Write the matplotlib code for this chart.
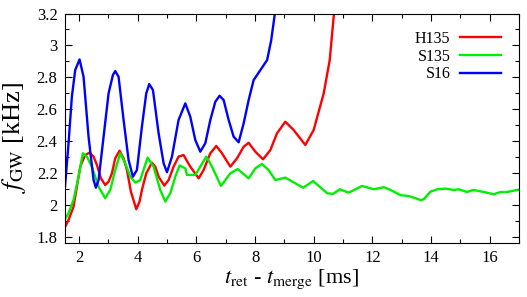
import numpy as np
import matplotlib
matplotlib.use("Agg")
import matplotlib.pyplot as plt
from matplotlib.ticker import MultipleLocator

plt.rcParams["font.family"] = ["Liberation Serif", "DejaVu Serif"]
plt.rcParams["mathtext.fontset"] = "stix"

# H135 (red)
t_h135 = [1.50, 1.638, 1.808, 1.922, 2.036, 2.206, 2.354, 2.491, 2.605, 2.741, 2.889, 3.003,
          3.117, 3.23, 3.378, 3.515, 3.629, 3.765, 3.947, 4.06, 4.14, 4.288, 4.481, 4.595,
          4.71, 4.903, 5.05, 5.22, 5.39, 5.56, 5.79, 6.074, 6.245, 6.473, 6.677, 6.87,
          7.155, 7.382, 7.61, 7.78, 8.008, 8.27, 8.52, 8.746, 9.03, 9.315, 9.713, 9.997,
          10.34, 10.545, 10.7, 10.8]
f_h135 = [1.853, 1.905, 1.988, 2.113, 2.239, 2.312, 2.327, 2.302, 2.25, 2.166, 2.124, 2.145,
          2.197, 2.291, 2.339, 2.291, 2.218, 2.082, 1.972, 2.02, 2.093, 2.197, 2.264, 2.239,
          2.176, 2.12, 2.155, 2.239, 2.302, 2.312, 2.239, 2.166, 2.218, 2.323, 2.369, 2.323,
          2.239, 2.291, 2.364, 2.389, 2.333, 2.285, 2.343, 2.448, 2.521, 2.469, 2.375, 2.469,
          2.699, 2.908, 3.221, 3.4]

# S135 (green)
t_s135 = [1.50, 1.638, 1.808, 1.979, 2.126, 2.263, 2.433, 2.662, 2.889, 3.06, 3.23, 3.401,
          3.572, 3.742, 3.913, 4.083, 4.333, 4.538, 4.766, 4.937, 5.107, 5.278, 5.426, 5.62,
          5.676, 5.961, 6.131, 6.336, 6.53, 6.836, 7.155, 7.405, 7.78, 8.008, 8.235, 8.46,
          8.69, 9.03, 9.64, 9.98, 10.46, 10.66, 10.89, 11.19, 11.65, 12.05, 12.39, 12.62,
          12.96, 13.24, 13.64, 13.75, 13.98, 14.21, 14.49, 14.78, 14.95, 15.23, 15.44, 15.8,
          16.14, 16.37, 16.6, 16.94, 17.0]
f_s135 = [1.905, 1.947, 2.03, 2.176, 2.323, 2.302, 2.239, 2.113, 2.041, 2.093, 2.218, 2.323,
          2.26, 2.176, 2.139, 2.155, 2.295, 2.239, 2.093, 2.02, 2.072, 2.176, 2.247, 2.228,
          2.187, 2.187, 2.239, 2.302, 2.239, 2.118, 2.197, 2.224, 2.166, 2.228, 2.256, 2.218,
          2.155, 2.17, 2.107, 2.149, 2.072, 2.068, 2.097, 2.076, 2.118, 2.097, 2.11, 2.093,
          2.06, 2.055, 2.03, 2.034, 2.082, 2.097, 2.101, 2.093, 2.097, 2.08, 2.093, 2.08,
          2.066, 2.08, 2.08, 2.093, 2.093]

# S16 (blue)
t_s16 = [1.50, 1.638, 1.751, 1.865, 2.013, 2.15, 2.32, 2.491, 2.571, 2.662, 2.833, 3.003,
         3.151, 3.23, 3.344, 3.515, 3.685, 3.833, 3.97, 4.14, 4.288, 4.39, 4.516, 4.71,
         4.88, 4.994, 5.165, 5.39, 5.62, 5.79, 5.961, 6.131, 6.302, 6.473, 6.643, 6.79,
         6.927, 7.098, 7.268, 7.439, 7.61, 7.78, 7.95, 8.18, 8.41, 8.55, 8.69, 8.75]
f_s16 = [2.076, 2.386, 2.678, 2.845, 2.912, 2.803, 2.427, 2.155, 2.107, 2.155, 2.427, 2.699,
         2.814, 2.839, 2.803, 2.532, 2.281, 2.176, 2.218, 2.49, 2.699, 2.757, 2.72, 2.448,
         2.26, 2.204, 2.302, 2.532, 2.636, 2.552, 2.406, 2.333, 2.386, 2.532, 2.646, 2.684,
         2.657, 2.532, 2.427, 2.392, 2.511, 2.657, 2.782, 2.845, 2.908, 3.033, 3.221, 3.35]

fig = plt.figure(figsize=(5.27, 2.97), dpi=100)
ax = fig.add_axes([64.5 / 527, 1 - 243 / 297, (519 - 64.5) / 527, (243 - 13.5) / 297])

ax.plot(t_h135, f_h135, color="#ff0000", lw=1.7, label="H135")
ax.plot(t_s135, f_s135, color="#00ee00", lw=1.7, label="S135")
ax.plot(t_s16, f_s16, color="#0000ff", lw=1.7, label="S16")

ax.set_xlim(1.5, 17)
ax.set_ylim(1.76, 3.2)
ax.xaxis.set_major_locator(MultipleLocator(2))
ax.xaxis.set_minor_locator(MultipleLocator(1))
ax.yaxis.set_major_locator(MultipleLocator(0.2))
ax.yaxis.set_minor_locator(MultipleLocator(0.1))
ax.yaxis.set_major_formatter(plt.FuncFormatter(lambda v, p: f"{v:g}"))
ax.tick_params(which="both", direction="in", top=True, right=True, labelsize=12, width=0.8)
ax.tick_params(which="major", length=5, pad=5)
ax.tick_params(which="minor", length=3)

ax.set_xlabel(r"$t_{\rm ret}$ - $t_{\rm merge}$ [ms]", fontsize=16, labelpad=1)
ax.set_ylabel(r"$f_{\rm GW}$ [kHz]", fontsize=19)
ax.yaxis.set_label_coords(-0.08, 0.46)

ax.legend(loc="upper right", frameon=False, markerfirst=False, fontsize=11.5,
          handlelength=2.6, labelspacing=0.1, borderaxespad=0.7, handletextpad=0.6)

fig.savefig("out.png", dpi=100)
